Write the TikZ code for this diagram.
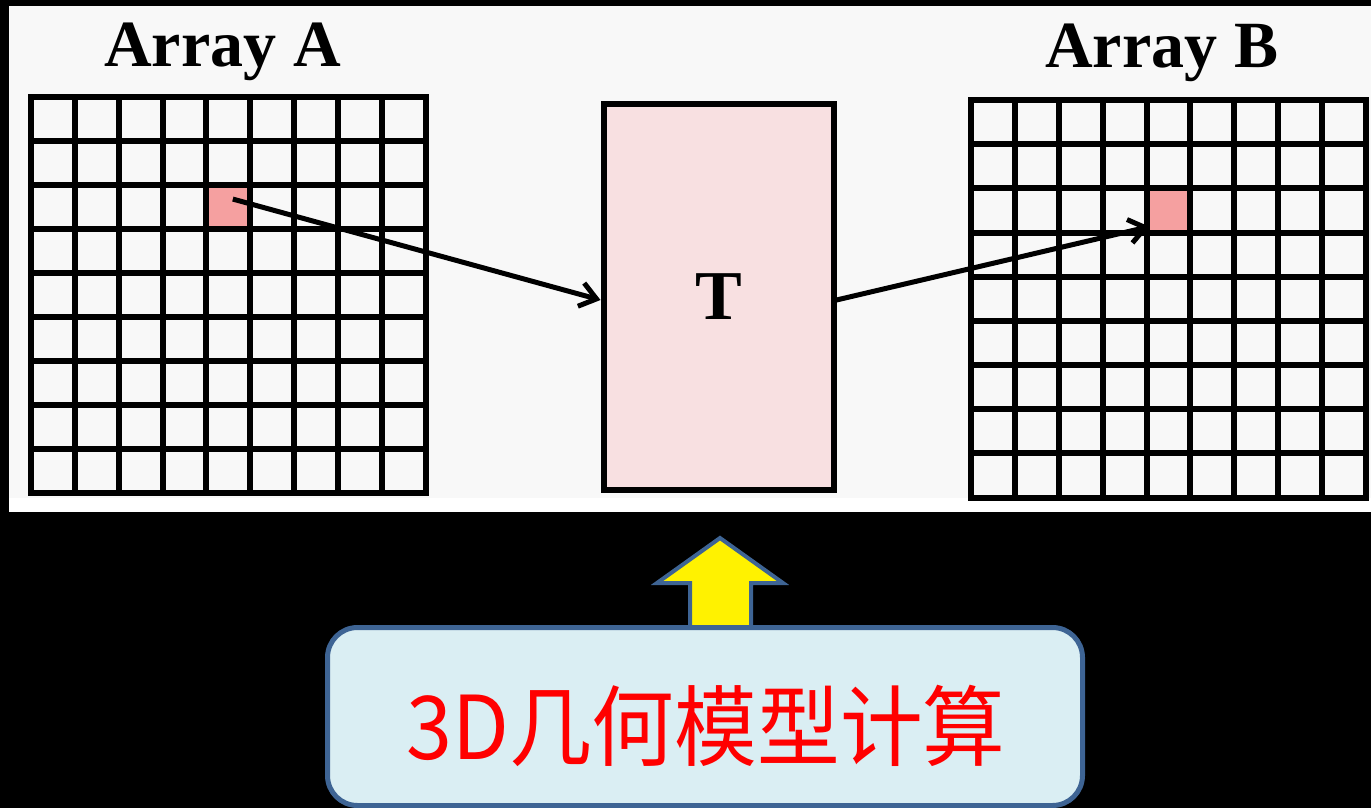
\documentclass[tikz,border=0pt]{standalone}
\usepackage{fontspec}
\setmainfont{Liberation Serif}
\newfontfamily\cjkfont{Noto Sans CJK SC}
\usetikzlibrary{arrows.meta,calc}
\definecolor{panelgrey}{HTML}{F8F8F8}
\definecolor{cellred}{HTML}{F5A0A0}
\definecolor{tpink}{HTML}{F8E0E1}
\definecolor{boxblue}{HTML}{DAEEF3}
\definecolor{edgeblue}{HTML}{3E6494}
\tikzset{
  gridline/.style={line width=6pt, line cap=rect},
  redcell/.style={fill=cellred, draw=none, minimum width=43.9pt, minimum height=44pt, inner sep=0pt},
  tbox/.style={draw=black, line width=6pt, fill=tpink, minimum width=230pt, minimum height=386pt, inner sep=0pt,
    font=\bfseries\fontsize{70}{74}\selectfont},
  arraylabel/.style={font=\bfseries\fontsize{66}{70}\selectfont, inner sep=0pt, anchor=base},
  flow/.style={line width=5pt, -{Straight Barb[length=16pt,width=24pt]}},
  calcbox/.style={draw=edgeblue, line width=5pt, fill=boxblue, rounded corners=30pt,
    minimum width=755pt, minimum height=178pt, inner sep=0pt},
  calctext/.style={text=red, font=\cjkfont\fontsize{88}{92}\selectfont, inner sep=0pt, xscale=0.94},
  blockarrow/.style={draw=edgeblue, line width=4pt, fill=yellow, line join=miter}
}
\begin{document}
\begin{tikzpicture}[x=1pt,y=-1pt]
\useasboundingbox (0,0) rectangle (1371,808);
\fill[black] (0,0) rectangle (1371,808);
% panel
\fill[white] (9,6) rectangle (1371,512);
\fill[panelgrey] (9,6) rectangle (1371,498);

% labels
\node[arraylabel] (labA) at (222.5,66.7) {Array A};
\node[arraylabel] (labB) at (1161.7,68) {Array B};

% highlighted cells
\node[redcell] (cellA) at ({30.8+4.5*43.9},{97+2.5*44.03}) {};
\node[redcell] (cellB) at ({971+4.5*43.89},{100+2.5*44.17}) {};

% grid A
\foreach \i in {0,...,9} {
  \draw[gridline] ({30.8+\i*43.9},97) -- ({30.8+\i*43.9},493.3);
  \draw[gridline] (30.8,{97+\i*44.03}) -- (425.9,{97+\i*44.03});
}
% grid B
\foreach \i in {0,...,9} {
  \draw[gridline] ({971+\i*43.89},100) -- ({971+\i*43.89},497.5);
  \draw[gridline] (971,{100+\i*44.17}) -- (1366,{100+\i*44.17});
}

% transform box
\node[tbox] (T) at (718.5,297) {T};

% connectors
\coordinate (startA) at ($(cellA.center)+(4.5,-8)$);
\draw[flow] (startA) -- ([yshift=-3pt]T.west);
\draw[flow] ([yshift=-3pt]T.east) -- ([xshift=3pt,yshift=6pt]cellB.south west);

% yellow block arrow
\draw[blockarrow] (720,538) -- (783,583) -- (751,583) -- (751,630) -- (690,630) -- (690,583) -- (657,583) -- cycle;

% bottom box
\node[calcbox] (calc) at (705,716.5) {};
\node[calctext] (calclabel) at (706,726) {3D几何模型计算};
\end{tikzpicture}
\end{document}
